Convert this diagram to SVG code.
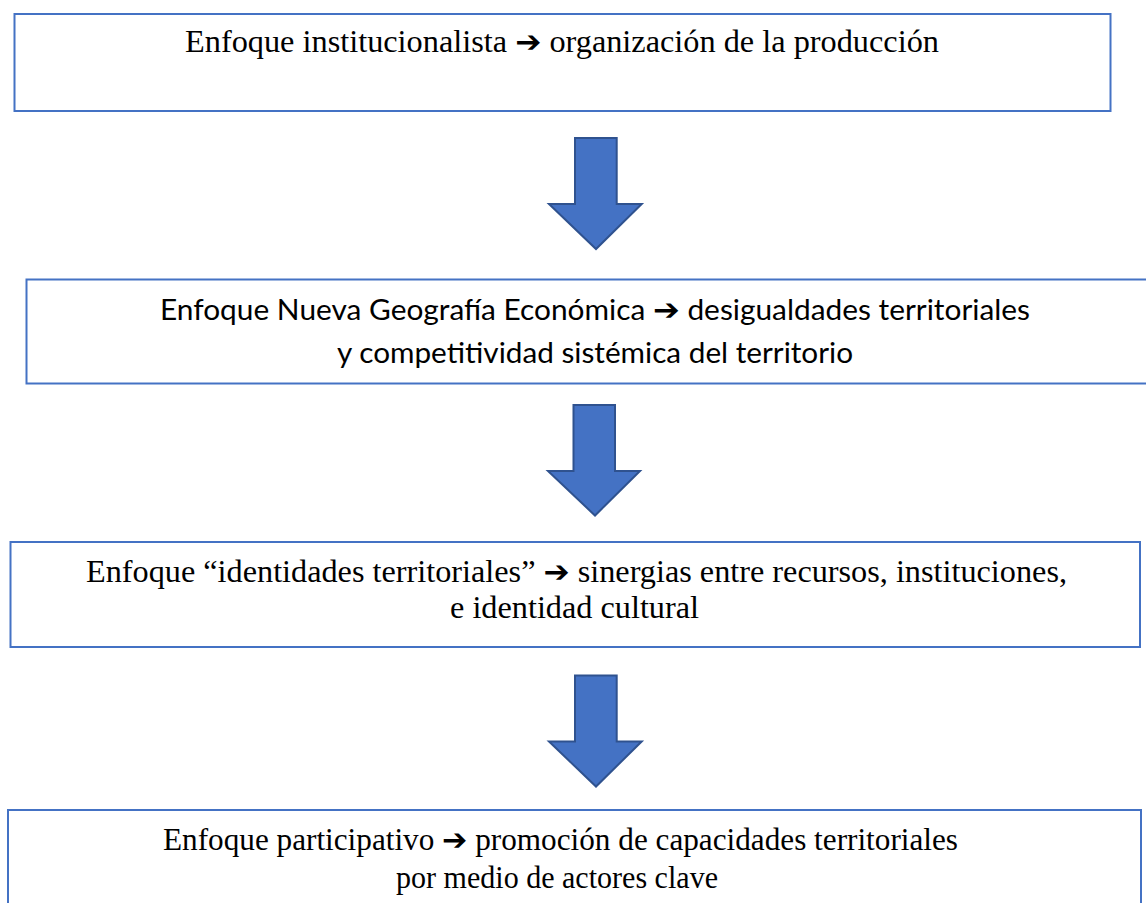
<svg xmlns="http://www.w3.org/2000/svg" width="1146" height="903" viewBox="0 0 1146 903">
<style>
.box{fill:#fff;stroke:#4472C4;stroke-width:2}
.arr{fill:#4472C4;stroke:#2F528F;stroke-width:2;stroke-linejoin:miter}
.serif{font-family:"Liberation Serif","Times New Roman",serif;font-size:31px;fill:#000}
.sans{font-family:Lato,"Liberation Sans",sans-serif;font-size:28px;fill:#000}
.sym{font-family:"DejaVu Sans",sans-serif;font-weight:bold;font-size:30px}
</style>
<rect width="1146" height="903" fill="#fff"/>
<g id="node1">
<rect class="box" x="14.5" y="14" width="1096" height="97"/>
<text class="serif" x="185" y="52" textLength="754" lengthAdjust="spacingAndGlyphs">Enfoque institucionalista <tspan class="sym">➔</tspan> organización de la producción</text>
</g>
<g id="node2">
<rect class="box" x="26.5" y="279.5" width="1130" height="104"/>
<text class="sans" x="160" y="320" textLength="870" lengthAdjust="spacingAndGlyphs">Enfoque Nueva Geografía Económica <tspan class="sym">➔</tspan> desigualdades territoriales</text>
<text class="sans" x="337" y="363" textLength="516" lengthAdjust="spacingAndGlyphs">y competitividad sistémica del territorio</text>
</g>
<g id="node3">
<rect class="box" x="10.5" y="542" width="1129.5" height="105"/>
<text class="serif" x="86" y="582" textLength="981" lengthAdjust="spacingAndGlyphs">Enfoque “identidades territoriales” <tspan class="sym">➔</tspan> sinergias entre recursos, instituciones,</text>
<text class="serif" x="450" y="618" textLength="249" lengthAdjust="spacingAndGlyphs">e identidad cultural</text>
</g>
<g id="node4">
<rect class="box" x="8" y="810" width="1133" height="120"/>
<text class="serif" x="163" y="850" textLength="795" lengthAdjust="spacingAndGlyphs">Enfoque participativo <tspan class="sym">➔</tspan> promoción de capacidades territoriales</text>
<text class="serif" x="396" y="888" textLength="322" lengthAdjust="spacingAndGlyphs">por medio de actores clave</text>
</g>
<g id="connectors">
<polygon class="arr" points="575,138 616.7,138 616.7,204 641.7,204 596,249 549,204 575,204"/>
<polygon class="arr" points="573.5,405 615,405 615,471 640,471 595,515.5 548,471 573.5,471"/>
<polygon class="arr" points="575,675.5 616.7,675.5 616.7,741.5 641.7,741.5 596,786.5 549,741.5 575,741.5"/>
</g>
</svg>
